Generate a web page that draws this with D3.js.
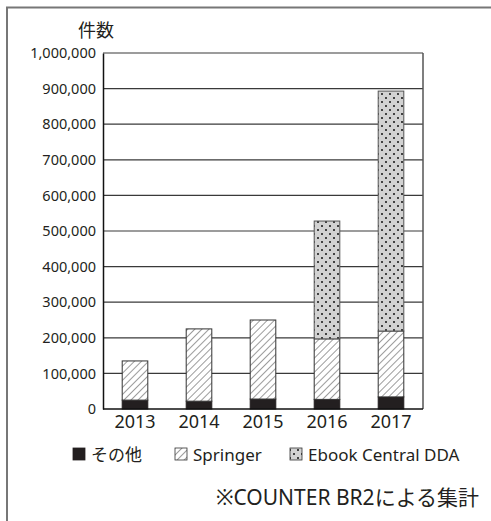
<!DOCTYPE html>
<html><head><meta charset="utf-8">
<script src="https://cdn.jsdelivr.net/npm/d3@7"></script>
<style>body{margin:0;background:#fff}svg{display:block}</style>
</head><body>
<svg id="c" width="491" height="521"></svg>
<script>
const years = ["2013","2014","2015","2016","2017"];
const other = [25000, 22000, 28000, 27000, 34000];
const springer = [110000, 203000, 222000, 170000, 185000];
const ebook = [0, 0, 0, 331000, 674000];
const seriesNames = ["その他","Springer","Ebook Central DDA"];
const yTicks = [0,100000,200000,300000,400000,500000,600000,700000,800000,900000,1000000];
const yLabel = "件数";
const note = "※COUNTER BR2による集計";

const font = "'Noto Sans','Noto Sans CJK JP',sans-serif";
const svg = d3.select("#c");
const defs = svg.append("defs");
const hatch = defs.append("pattern").attr("id","hatch").attr("patternUnits","userSpaceOnUse")
  .attr("width",5).attr("height",5).attr("patternTransform","rotate(45)");
hatch.append("rect").attr("width",5).attr("height",5).attr("fill","#fff");
hatch.append("line").attr("x1",0).attr("y1",0).attr("x2",0).attr("y2",5).attr("stroke","#222").attr("stroke-width",0.9);
const dots = defs.append("pattern").attr("id","dots").attr("patternUnits","userSpaceOnUse")
  .attr("width",8).attr("height",8);
dots.append("rect").attr("width",8).attr("height",8).attr("fill","#d2d2d2");
dots.append("circle").attr("cx",2).attr("cy",2).attr("r",1).attr("fill","#111");
dots.append("circle").attr("cx",6).attr("cy",6).attr("r",1).attr("fill","#111");

// outer frame (top and left)
svg.append("path").attr("d","M7,521 V7.5 H491").attr("fill","none").attr("stroke","#777").attr("stroke-width",2);

const L=103, R=423, T=53, B=409;
const x = d3.scaleBand().domain(years).range([L,R]).paddingInner(0.6).paddingOuter(0.3);
const y = d3.scaleLinear().domain([0,1000000]).range([B,T]);

// gridlines
svg.append("g").selectAll("line").data(yTicks.filter(d=>d>0)).join("line")
  .attr("x1",L).attr("x2",R).attr("y1",d=>y(d)).attr("y2",d=>y(d))
  .attr("stroke","#3a3a3a").attr("stroke-width",1.2);
svg.append("line").attr("x1",R).attr("x2",R).attr("y1",T).attr("y2",B).attr("stroke","#555").attr("stroke-width",1.5);

const data = years.map((yr,i)=>({yr, o:other[i], s:springer[i], e:ebook[i]}));
const stack = d3.stack().keys(["o","s","e"])(data);
const fills = ["#231f20","url(#hatch)","url(#dots)"];
const strokes = ["#231f20","#333","#555"];
stack.forEach((layer,k)=>{
  svg.append("g").selectAll("rect").data(layer.filter(d=>d[1]>d[0])).join("rect")
    .attr("x",d=>x(d.data.yr)).attr("width",x.bandwidth())
    .attr("y",d=>y(d[1])).attr("height",d=>y(d[0])-y(d[1]))
    .attr("fill",fills[k]).attr("stroke",strokes[k]).attr("stroke-width",1);
});

// axes
const yAxis = d3.axisLeft(y).tickValues(yTicks).tickSize(0).tickPadding(7).tickFormat(d3.format(","));
const ga = svg.append("g").attr("transform",`translate(${L},0)`).call(yAxis);
ga.select(".domain").attr("stroke","#111").attr("stroke-width",1.5);
ga.selectAll("text").attr("font-family",font).attr("font-size",14.5).attr("fill","#231f20");
const xAxis = d3.axisBottom(x).tickSize(0).tickPadding(6);
const gx = svg.append("g").attr("transform",`translate(0,${B})`).call(xAxis);
gx.select(".domain").attr("d",`M${L},0H${R}`).attr("stroke","#111").attr("stroke-width",1.5);
gx.selectAll("text").attr("font-family",font).attr("font-size",18).attr("fill","#231f20");

svg.append("text").attr("x",96).attr("y",37).attr("text-anchor","middle")
  .attr("font-family",font).attr("font-size",18).attr("fill","#231f20").text(yLabel);

// legend
const legX = [73,175,290];
const lg = svg.append("g");
seriesNames.forEach((n,i)=>{
  lg.append("rect").attr("x",legX[i]).attr("y",448).attr("width",12).attr("height",12)
    .attr("fill",fills[i]).attr("stroke",i==0?"#231f20":"#333").attr("stroke-width",0.8);
  lg.append("text").attr("x",legX[i]+18).attr("y",461).attr("font-family",font)
    .attr("font-size",17).attr("fill","#231f20").text(n);
});
svg.append("text").attr("x",479).attr("y",505).attr("text-anchor","end")
  .attr("font-family",font).attr("font-size",21).attr("fill","#231f20").text(note);
</script>
</body></html>
